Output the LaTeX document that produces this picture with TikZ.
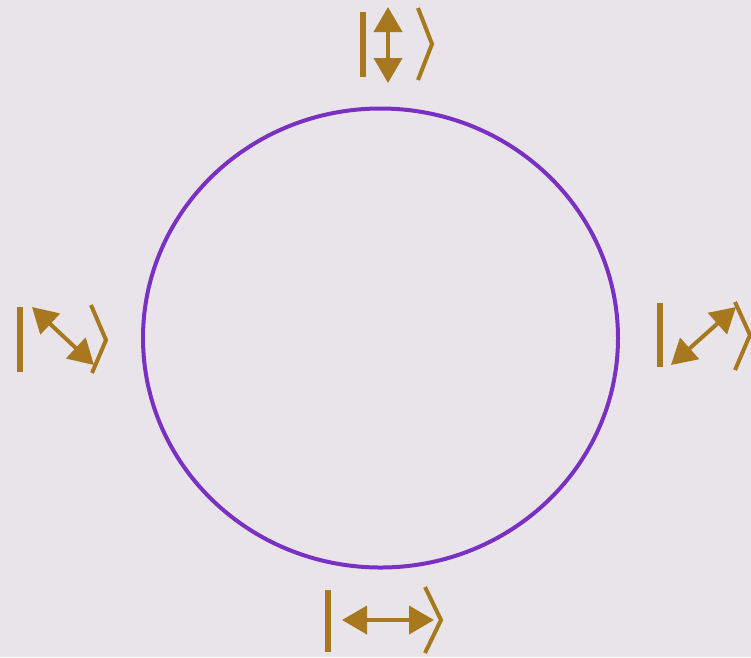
\documentclass[tikz,border=0pt]{standalone}
\usetikzlibrary{arrows.meta}
\definecolor{bg}{HTML}{E9E4EA}
\definecolor{ketcol}{HTML}{A8781E}
\definecolor{circcol}{HTML}{7A30C0}
\tikzset{
  ketbar/.style={draw=ketcol, line width=5.5pt},
  ketangle/.style={draw=ketcol, line width=4pt, line join=miter},
  ketarrow/.style={draw=ketcol, fill=ketcol, line width=4pt,
    {Triangle[length=25pt,width=28pt]}-{Triangle[length=25pt,width=28pt]}},
  ring/.style={draw=circcol, line width=4pt}
}
\begin{document}
\begin{tikzpicture}[x=1pt,y=-1pt]
\fill[bg] (0,0) rectangle (751,657);
\useasboundingbox (0,0) rectangle (751,657);
% circle
\draw[ring] (380.5,338) ellipse [x radius=237.5, y radius=229.5];
% top ket (vertical)
\coordinate (t1) at (388,7);
\coordinate (t2) at (388,83);
\draw[ketbar] (363,12) -- (363,77);
\draw[ketarrow] (t1) -- (t2);
\draw[ketangle] (418,8) -- (432,44) -- (418,80);
% left ket (diagonal \)
\coordinate (l1) at (32,307);
\coordinate (l2) at (94,365);
\draw[ketbar] (20,307) -- (20,372);
\draw[ketarrow] (l1) -- (l2);
\draw[ketangle] (91,305) -- (106,340) -- (92,373);
% right ket (diagonal /)
\coordinate (r1) at (671,365);
\coordinate (r2) at (736,307);
\draw[ketbar] (660,303) -- (660,367);
\draw[ketarrow] (r1) -- (r2);
\draw[ketangle] (735,302) -- (750,335) -- (735,370);
% bottom ket (horizontal)
\coordinate (b1) at (342,620);
\coordinate (b2) at (434,620);
\draw[ketbar] (328,590) -- (328,652);
\draw[ketarrow] (b1) -- (b2);
\draw[ketangle] (425,587) -- (441,620) -- (425,653);
\end{tikzpicture}
\end{document}
